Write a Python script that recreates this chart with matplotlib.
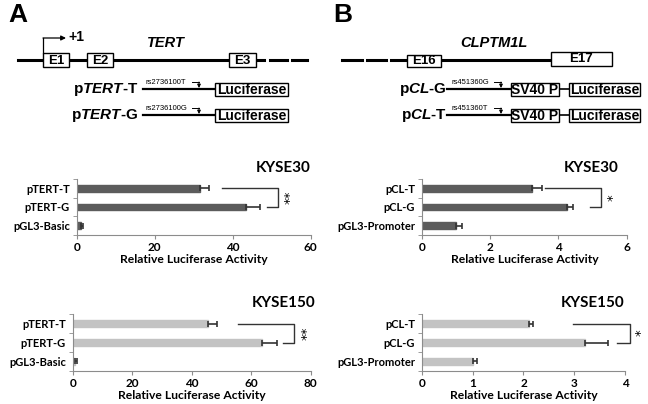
import numpy as np
import matplotlib
matplotlib.use('Agg')
import matplotlib.pyplot as plt
from matplotlib.patches import Rectangle

# chart data
labels_A = ['pTERT-T', 'pTERT-G', 'pGL3-Basic']
labels_B = ['pCL-T', 'pCL-G', 'pGL3-Promoter']

kyse30_A = [31.7, 43.5, 1.2]
kyse30_A_err = [2.1, 3.6, 0.4]
kyse150_A = [45.4, 63.5, 0.8]
kyse150_A_err = [3.2, 5.3, 0.5]

kyse30_B = [3.22, 4.24, 1.0]
kyse30_B_err = [0.29, 0.18, 0.17]
kyse150_B = [2.11, 3.22, 1.0]
kyse150_B_err = [0.07, 0.44, 0.08]

DARK = '#5c5c5c'
LIGHT = '#c3c3c3'
SPINE = '#8c8c8c'
CHART_FONT = ['Lato', 'DejaVu Sans']
DIAG_FONT = ['Liberation Sans', 'DejaVu Sans']

plt.rcParams['mathtext.fontset'] = 'custom'
plt.rcParams['mathtext.rm'] = 'Liberation Sans:bold'
plt.rcParams['mathtext.bfit'] = 'Liberation Sans:bold:italic'

fig = plt.figure(figsize=(6.48, 4.04), dpi=100)


def bar_panel(rect, labels, vals, errs, color, xmax, step, title, title_x,
              bracket, star):
    ax = fig.add_axes(rect)
    y = np.arange(len(vals))
    ax.barh(y, vals, height=0.36, color=color, edgecolor=color)
    ax.errorbar(vals, y, xerr=[np.zeros(len(errs)), errs], fmt='none',
                ecolor='#333333', elinewidth=1.2, capsize=2, capthick=1.2)
    ax.set_xlim(0, xmax)
    ax.set_ylim(2.5, -0.5)
    ax.set_xticks(np.arange(0, xmax + step / 2, step))
    ax.set_yticks(y)
    ax.set_yticklabels(labels)
    ax.set_yticks([-0.5, 0.5, 1.5, 2.5], minor=True)
    ax.tick_params(axis='y', which='major', length=0, pad=5)
    ax.tick_params(axis='y', which='minor', length=3, color=SPINE, direction='out')
    ax.tick_params(axis='x', length=3, color=SPINE, pad=2)
    for lab in ax.get_yticklabels():
        lab.set_fontfamily(CHART_FONT)
        lab.set_fontweight('bold')
        lab.set_fontsize(8)
    for lab in ax.get_xticklabels():
        lab.set_fontfamily(CHART_FONT)
        lab.set_fontweight('bold')
        lab.set_fontsize(8.5)
    for s in ['top', 'right']:
        ax.spines[s].set_visible(False)
    for s in ['left', 'bottom']:
        ax.spines[s].set_color(SPINE)
    ax.set_xlabel('Relative Luciferase Activity', family=CHART_FONT,
                  fontweight='bold', fontsize=8.7, labelpad=1)
    ax.text(title_x, -0.7, title, transform=ax.get_yaxis_transform(),
            ha='right', va='bottom', family=CHART_FONT, fontweight='bold',
            fontsize=11)
    # significance bracket
    x_top, x_bot, x_right = bracket
    ax.plot([x_top, x_right, x_right, x_bot], [0, 0, 1, 1], color='#333333',
            lw=1.0, clip_on=False)
    ax.text(x_right + xmax * 0.025, 0.5, star, ha='left', va='center',
            fontsize=9.5, family='DejaVu Sans', rotation=90, clip_on=False)
    return ax


bar_panel([0.1184, 0.4183, 0.3611, 0.139], labels_A, kyse30_A, kyse30_A_err,
          DARK, 60, 20, 'KYSE30', 1.0, (37.3, 48.8, 51.5), '**')
bar_panel([0.6512, 0.4183, 0.3159, 0.139], labels_B, kyse30_B, kyse30_B_err,
          DARK, 6, 2, 'KYSE30', 0.96, (3.61, 4.93, 5.25), '*')
bar_panel([0.1122, 0.0817, 0.3673, 0.141], labels_A, kyse150_A, kyse150_A_err,
          LIGHT, 80, 20, 'KYSE150', 1.02, (55.7, 70.6, 74.5), '**')
bar_panel([0.6512, 0.0817, 0.3133, 0.141], labels_B, kyse150_B, kyse150_B_err,
          LIGHT, 4, 1, 'KYSE150', 1.0, (2.98, 3.85, 4.09), '*')

# gene diagrams drawn on a pixel-space overlay
ov = fig.add_axes([0, 0, 1, 1])
ov.set_xlim(0, 648)
ov.set_ylim(404, 0)
ov.axis('off')


def box(x0, x1, y0, y1, text, size=9.5):
    ov.add_patch(Rectangle((x0, y0), x1 - x0, y1 - y0, facecolor='white',
                           edgecolor='black', lw=1.0, zorder=3))
    ov.text((x0 + x1) / 2, (y0 + y1) / 2 + 0.5, text, ha='center', va='center',
            family=DIAG_FONT, fontweight='bold', fontsize=size, zorder=4)


def elbow_arrow(x0, y0, x1, y1, lw, head, horizontal_first):
    # bent arrow: one straight leg then an arrow leg
    if horizontal_first:
        ov.plot([x0, x1], [y0, y0], color='black', lw=lw)
        ov.annotate('', xy=(x1, y1), xytext=(x1, y0),
                    arrowprops=dict(arrowstyle='-|>', lw=lw, color='black',
                                    mutation_scale=head, shrinkA=0, shrinkB=0))
    else:
        ov.plot([x0, x0], [y0, y1], color='black', lw=lw)
        ov.annotate('', xy=(x1, y1), xytext=(x0, y1),
                    arrowprops=dict(arrowstyle='-|>', lw=lw, color='black',
                                    mutation_scale=head, shrinkA=0, shrinkB=0))


# panel letters
ov.text(8, 22, 'A', family=DIAG_FONT, fontweight='bold', fontsize=19)
ov.text(333, 22, 'B', family=DIAG_FONT, fontweight='bold', fontsize=19)

# --- panel A: TERT ---
ov.plot([18, 264], [60, 60], color='black', lw=2.2)
ov.plot([270, 287], [60, 60], color='black', lw=2.2)
ov.plot([292, 307], [60, 60], color='black', lw=2.2)
box(43, 69, 53, 67, 'E1')
box(87, 113, 53, 67, 'E2')
box(229, 256, 53, 67, 'E3')
elbow_arrow(43, 53, 66, 38, 0.9, 7, False)
ov.text(68, 37, '+1', family=DIAG_FONT, fontweight='bold', fontsize=10,
        va='center')
ov.text(166, 43, 'TERT', family=DIAG_FONT, fontweight='bold', style='italic',
        fontsize=10.5, ha='center', va='center')

for yy, name, snp in [(89, '-T', 'rs2736100T'), (115, '-G', 'rs2736100G')]:
    ov.text(138, yy, r'p$\mathbfit{TERT}$' + name, family=DIAG_FONT,
            fontweight='bold', fontsize=11, ha='right', va='center')
    ov.plot([143, 215], [yy, yy], color='black', lw=1.6)
    ov.text(146, yy - 7, snp, family=DIAG_FONT, fontsize=5.5, va='center')
    elbow_arrow(192, yy - 7, 199, yy - 1, 0.7, 5, True)
    box(215, 288, yy - 6.5, yy + 6.5, 'Luciferase', 10)

# --- panel B: CLPTM1L ---
ov.plot([342, 362], [60, 60], color='black', lw=2.2)
ov.plot([367, 386], [60, 60], color='black', lw=2.2)
ov.plot([391, 551], [60, 60], color='black', lw=2.2)
box(407, 441, 55, 67, 'E16')
box(551, 612, 52, 66, 'E17')
ov.text(494, 43, 'CLPTM1L', family=DIAG_FONT, fontweight='bold',
        style='italic', fontsize=10.5, ha='center', va='center')

for yy, name, snp in [(89, '-G', 'rs451360G'), (115, '-T', 'rs451360T')]:
    ov.text(447, yy, r'p$\mathbfit{CL}$' + name, family=DIAG_FONT,
            fontweight='bold', fontsize=11, ha='right', va='center')
    ov.plot([447, 511], [yy, yy], color='black', lw=1.6)
    ov.text(452, yy - 7, snp, family=DIAG_FONT, fontsize=5.5, va='center')
    elbow_arrow(494, yy - 7, 501, yy - 1, 0.7, 5, True)
    box(511, 559, yy - 6.5, yy + 6.5, 'SV40 P', 10)
    ov.plot([559, 569], [yy, yy], color='black', lw=1.2)
    box(569, 640, yy - 6.5, yy + 6.5, 'Luciferase', 10)

fig.savefig('out.png', dpi=100)
